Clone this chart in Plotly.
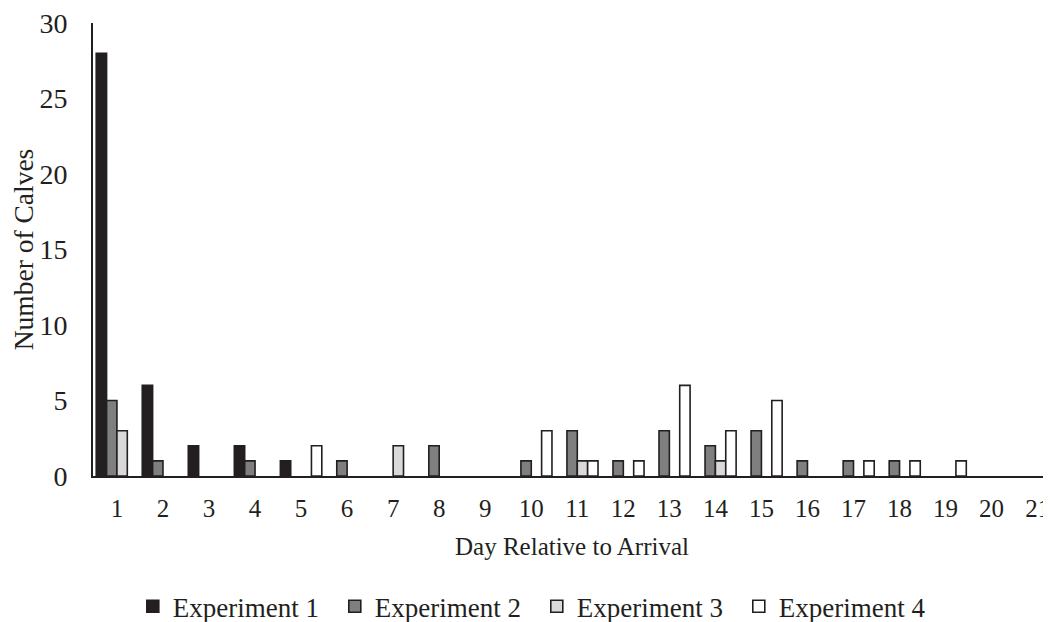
import plotly.graph_objects as go

days = list(range(1, 22))
exp1 = [28, 6, 2, 2, 1, 0, 0, 0, 0, 0, 0, 0, 0, 0, 0, 0, 0, 0, 0, 0, 0]
exp2 = [5, 1, 0, 1, 0, 1, 0, 2, 0, 1, 3, 1, 3, 2, 3, 1, 1, 1, 0, 0, 0]
exp3 = [3, 0, 0, 0, 0, 0, 2, 0, 0, 0, 1, 0, 0, 1, 0, 0, 0, 0, 0, 0, 0]
exp4 = [0, 0, 0, 0, 2, 0, 0, 0, 0, 3, 1, 1, 6, 3, 5, 0, 1, 1, 1, 0, 0]
names = ["Experiment 1", "Experiment 2", "Experiment 3", "Experiment 4"]
colors = ["#231f20", "#7f7f7f", "#d9d9d9", "#ffffff"]
series = [exp1, exp2, exp3, exp4]

FONT = "Liberation Serif, Times New Roman, serif"
INK = "#231f20"
FS = 25

fig = go.Figure()
for name, vals, col in zip(names, series, colors):
    fig.add_trace(go.Bar(
        x=days, y=[v if v else None for v in vals], name=name,
        marker=dict(color=col, line=dict(color=INK, width=1.6)),
    ))

# the page body adds an 8px offset; the figure is sized to fit the window
fig.update_layout(
    width=1043, height=614,
    margin=dict(l=85, r=0, t=15, b=146, autoexpand=False),
    paper_bgcolor="white", plot_bgcolor="white",
    barmode="group", bargap=0.1, bargroupgap=0,
    font=dict(family=FONT, size=FS, color=INK),
    showlegend=True,
    legend=dict(
        orientation="h", xref="container", yref="container",
        x=0.507, y=0.025, xanchor="center", yanchor="middle",
        font=dict(family=FONT, size=27, color=INK),
        itemwidth=30, tracegroupgap=0, entrywidth=157,
    ),
    xaxis=dict(
        range=[0.48, 21.29], tickmode="array", tickvals=days,
        ticktext=[str(d) for d in days],
        tickfont=dict(family=FONT, size=25, color=INK),
        showline=True, linecolor=INK, linewidth=2,
        showgrid=False, zeroline=False, ticks="",
        ticklabelstandoff=9, automargin=False, ticklabeloverflow="allow",
        title=dict(text="Day Relative to Arrival", standoff=16,
                   font=dict(family=FONT, size=25, color=INK)),
    ),
    yaxis=dict(
        range=[0, 30], tickvals=[0, 5, 10, 15, 20, 25, 30],
        tickfont=dict(family=FONT, size=28, color=INK),
        showline=True, linecolor=INK, linewidth=2,
        showgrid=False, zeroline=False, ticks="",
        ticklabelstandoff=18, automargin=False, ticklabeloverflow="allow",
        title=dict(text="Number of Calves", standoff=6,
                   font=dict(family=FONT, size=27.5, color=INK)),
    ),
)

fig.write_html("out.html")
